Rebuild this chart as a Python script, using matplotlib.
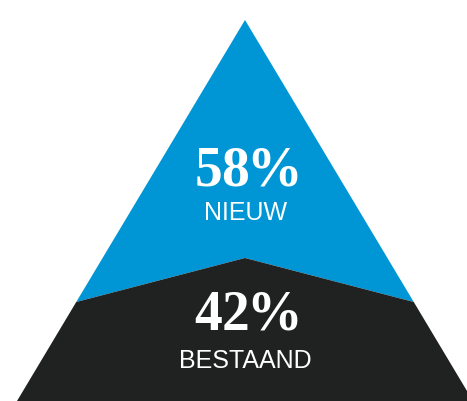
import matplotlib
matplotlib.use("Agg")
import matplotlib.pyplot as plt
from matplotlib.patches import Polygon

# shares shown in the pyramid
labels = ["NIEUW", "BESTAAND"]
shares = [58, 42]
colors = ["#0096d6", "#202222"]

W, H = 467, 401

# pyramid geometry (pixels, y downwards)
apex = (245, 20)
base_y = 401
half_base = 228
split_side_y = 302
split_mid_y = 258

# serif bold through mathtext, which sets the % tighter to the digits
plt.rcParams["mathtext.fontset"] = "custom"
plt.rcParams["mathtext.bf"] = "Liberation Serif:bold"
plt.rcParams["mathtext.rm"] = "Liberation Serif"


def edge_x(y, side):
    # x of the triangle side at height y
    t = (y - apex[1]) / (base_y - apex[1])
    return apex[0] + side * half_base * t


def main():
    fig = plt.figure(figsize=(W / 100, H / 100), dpi=100)
    ax = fig.add_axes([0, 0, 1, 1])
    ax.set_xlim(0, W)
    ax.set_ylim(H, 0)
    ax.axis("off")

    xl, xr = edge_x(split_side_y, -1), edge_x(split_side_y, 1)
    top = [apex, (xr, split_side_y), (apex[0], split_mid_y), (xl, split_side_y)]
    bottom = [(xl, split_side_y), (apex[0], split_mid_y), (xr, split_side_y),
              (edge_x(base_y, 1), base_y), (edge_x(base_y, -1), base_y)]
    ax.add_patch(Polygon(top, closed=True, color=colors[0], lw=0))
    ax.add_patch(Polygon(bottom, closed=True, color=colors[1], lw=0))

    pct_y = [171, 315]
    lab_y = [213, 361]
    for i in range(len(labels)):
        s = r"$\mathbf{%d}\hspace{-0.06}\mathbf{\%%}$" % shares[i]
        ax.text(apex[0] + 1, pct_y[i], s, color="white", fontsize=40,
                ha="center", va="center")
        ax.text(apex[0] + 0.5, lab_y[i], labels[i], color="white",
                fontsize=18, family="Liberation Sans",
                ha="center", va="center")

    fig.savefig("out.png", dpi=100)


if __name__ == "__main__":
    main()
